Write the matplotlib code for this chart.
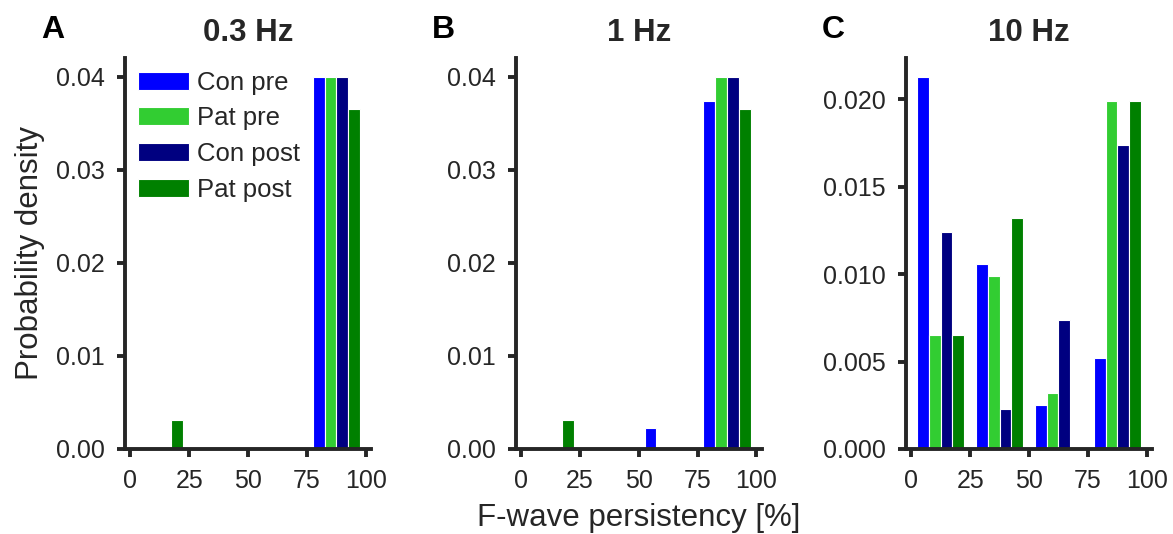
import numpy as np
import matplotlib
matplotlib.use('Agg')
import matplotlib.pyplot as plt

plt.rcParams['font.family'] = ['Liberation Sans', 'DejaVu Sans']

# histogram bins (F-wave persistency, %)
bin_edges = [0, 25, 50, 75, 100]
bin_mids = [12.5, 37.5, 62.5, 87.5]

groups = ['Con pre', 'Pat pre', 'Con post', 'Pat post']
colors = ['#0000ff', '#32cd32', '#000080', '#008000']

titles = ['0.3 Hz', '1 Hz', '10 Hz']
letters = ['A', 'B', 'C']

# probability density per bin
hz03_con_pre = [0.0, 0.0, 0.0, 0.04]
hz03_pat_pre = [0.0, 0.0, 0.0, 0.04]
hz03_con_post = [0.0, 0.0, 0.0, 0.04]
hz03_pat_post = [0.0031, 0.0, 0.0, 0.0365]

hz1_con_pre = [0.0, 0.0, 0.0023, 0.0374]
hz1_pat_pre = [0.0, 0.0, 0.0, 0.04]
hz1_con_post = [0.0, 0.0, 0.0, 0.04]
hz1_pat_post = [0.0031, 0.0, 0.0, 0.0365]

hz10_con_pre = [0.0213, 0.0106, 0.0025, 0.0052]
hz10_pat_pre = [0.0065, 0.0099, 0.0032, 0.0199]
hz10_con_post = [0.0124, 0.0023, 0.0074, 0.0174]
hz10_pat_post = [0.0065, 0.0132, 0.0, 0.0199]

panels = [
    [hz03_con_pre, hz03_pat_pre, hz03_con_post, hz03_pat_post],
    [hz1_con_pre, hz1_pat_pre, hz1_con_post, hz1_pat_post],
    [hz10_con_pre, hz10_pat_pre, hz10_con_post, hz10_pat_post],
]

dark = '#262626'
fig = plt.figure(figsize=(11.73, 5.34), dpi=100)
lefts = [125, 515.7, 906]
W, H = 1173, 534

for i, series in enumerate(panels):
    ax = fig.add_axes([lefts[i] / W, 85 / H, 246 / W, (449 - 58) / H])
    ax.hist([bin_mids] * 4, bins=bin_edges, weights=series, color=colors,
            label=groups, edgecolor='white', linewidth=0.8)
    ax.set_xticks([0, 25, 50, 75, 100])
    for s in ['top', 'right']:
        ax.spines[s].set_visible(False)
    for s in ['left', 'bottom']:
        ax.spines[s].set_linewidth(2.8)
        ax.spines[s].set_color(dark)
    ax.tick_params(direction='out', length=6, width=2.8, color=dark,
                   labelsize=18, labelcolor=dark, pad=8.5)
    ax.set_title(titles[i], fontsize=22.5, fontweight='bold', color=dark, pad=12)
    fig.text((lefts[i] - 84) / W, 1 - 38 / H, letters[i], fontsize=23,
             fontweight='bold', color='black')
    if i == 0:
        ax.set_ylabel('Probability density', fontsize=22.5, color=dark, labelpad=8)
        ax.legend(loc='upper left', frameon=False, fontsize=18.5,
                  borderaxespad=0.0, borderpad=0.5, handlelength=2.0,
                  labelspacing=0.45, handletextpad=0.3,
                  labelcolor=dark)
    if i == 1:
        ax.set_xlabel('F-wave persistency [%]', fontsize=22.5, color=dark, labelpad=7)

fig.savefig('out.png', dpi=100)
